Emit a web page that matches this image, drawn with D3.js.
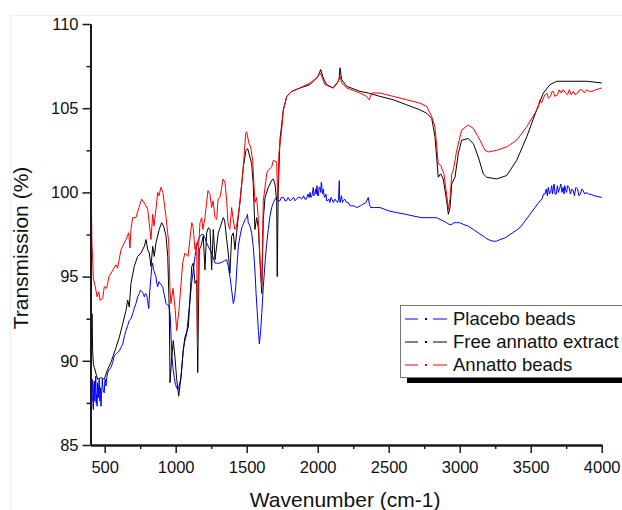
<!DOCTYPE html>
<html>
<head>
<meta charset="utf-8">
<script src="https://cdn.jsdelivr.net/npm/d3@7"></script>
<style>
  html, body { margin: 0; padding: 0; background: #fff; }
  svg { display: block; font-family: "Liberation Sans", Arial, sans-serif; }
</style>
</head>
<body>
<div id="wrapper"></div>
<script>
// FTIR spectra, [wavenumber, transmission %]
var seriesNames = ["Placebo beads", "Free annatto extract", "Annatto beads"];
var seriesColors = ["#0000ff", "#000000", "#ff0000"];

var placebo = [[401,90.6],[403,88.6],[406,89.5],[408,87.9],[410,87.6],[412,88.9],[415,88.6],[418,87.4],[420,87.1],[423,88.5],[427,88.8],[430,87.6],[434,88.3],[437,89.1],[440,87.5],[443,88.0],[446,87.3],[449,88.7],[452,88.2],[455,87.8],[458,88.6],[462,88.9],[466,87.6],[470,88.4],[474,87.3],[477,88.0],[480,88.3],[483,88.9],[486,88.6],[490,88.2],[497,88.1],[501,88.8],[505,88.9],[509,88.5],[514,89.0],[522,89.3],[532,89.5],[545,89.6],[556,89.9],[568,90.3],[580,90.4],[592,90.5],[603,90.6],[615,90.8],[627,91.0],[640,91.5],[650,91.8],[662,92.1],[673,92.4],[685,92.5],[697,92.8],[708,93.1],[720,93.4],[732,93.8],[744,94.0],[752,94.2],[763,94.1],[772,94.0],[779,93.8],[787,94.0],[796,93.9],[803,93.5],[810,93.1],[818,94.2],[826,95.0],[832,95.6],[838,95.8],[844,95.4],[850,95.3],[856,95.1],[861,95.0],[867,94.6],[873,94.4],[882,94.7],[890,94.6],[899,94.5],[908,94.4],[920,93.9],[932,93.4],[942,93.3],[951,93.3],[957,93.0],[962,92.6],[968,91.3],[974,90.2],[982,89.5],[990,89.0],[998,88.6],[1007,88.4],[1014,88.3],[1021,88.4],[1029,88.7],[1037,89.0],[1045,89.8],[1053,90.6],[1062,91.1],[1072,91.4],[1077,91.6],[1089,92.6],[1101,93.6],[1112,94.6],[1124,95.4],[1136,96.2],[1148,96.8],[1160,97.2],[1171,97.4],[1183,97.5],[1194,97.5],[1206,97.3],[1218,97.0],[1235,96.7],[1253,96.4],[1265,96.1],[1277,95.8],[1295,95.8],[1312,95.8],[1335,95.9],[1359,96.0],[1370,95.6],[1382,95.0],[1394,94.2],[1406,93.4],[1414,93.7],[1423,94.4],[1432,95.7],[1441,96.8],[1453,97.4],[1465,97.9],[1476,98.1],[1488,98.4],[1500,98.5],[1505,98.7],[1511,98.2],[1523,98.0],[1535,97.6],[1546,96.8],[1558,95.4],[1566,94.0],[1575,92.8],[1582,91.8],[1589,91.0],[1597,91.6],[1606,92.8],[1617,94.4],[1629,95.8],[1640,96.9],[1652,97.8],[1664,98.6],[1676,99.1],[1688,99.4],[1699,99.6],[1710,99.7],[1720,99.5],[1734,99.5],[1745,99.7],[1760,99.7],[1770,99.5],[1780,99.5],[1792,99.7],[1805,99.5],[1818,99.6],[1830,99.7],[1840,99.5],[1850,99.6],[1862,99.7],[1875,99.7],[1888,99.6],[1900,99.8],[1910,99.6],[1920,99.6],[1932,99.9],[1940,99.7],[1946,100.0],[1952,99.7],[1960,99.8],[1965,100.1],[1969,100.3],[1974,99.8],[1980,99.9],[1986,100.2],[1990,99.9],[1995,100.4],[2000,99.8],[2005,99.8],[2010,100.3],[2016,100.3],[2021,100.0],[2025,100.6],[2028,100.5],[2032,100.0],[2035,99.9],[2040,100.2],[2045,99.8],[2051,99.7],[2058,99.9],[2063,99.5],[2070,99.5],[2078,99.6],[2086,99.4],[2093,99.7],[2100,99.6],[2110,99.4],[2122,99.6],[2130,99.5],[2140,99.4],[2147,99.6],[2152,100.7],[2155,99.6],[2158,99.4],[2162,99.6],[2168,99.8],[2174,99.4],[2180,99.5],[2190,99.6],[2204,99.4],[2215,99.4],[2228,99.2],[2240,99.2],[2255,99.2],[2275,99.1],[2300,99.2],[2321,99.3],[2340,99.4],[2356,99.7],[2364,99.3],[2373,99.1],[2400,99.1],[2439,99.1],[2500,98.9],[2556,98.8],[2620,98.7],[2673,98.6],[2730,98.5],[2791,98.5],[2838,98.5],[2861,98.4],[2885,98.3],[2908,98.2],[2925,98.1],[2944,98.1],[2960,98.2],[2979,98.2],[3000,98.2],[3025,98.1],[3060,98.0],[3096,97.8],[3130,97.6],[3166,97.4],[3200,97.2],[3237,97.1],[3260,97.1],[3284,97.2],[3320,97.3],[3354,97.5],[3390,97.7],[3424,97.9],[3460,98.3],[3495,98.7],[3530,99.1],[3565,99.5],[3580,99.6],[3590,99.9],[3600,99.9],[3610,100.2],[3617,99.8],[3624,100.3],[3632,99.9],[3640,100.0],[3648,100.4],[3654,99.9],[3659,100.2],[3665,100.5],[3672,99.9],[3680,99.9],[3688,100.4],[3695,100.0],[3706,100.3],[3712,100.5],[3720,100.0],[3728,100.3],[3735,99.9],[3740,100.4],[3747,100.1],[3753,100.0],[3760,100.4],[3770,100.3],[3780,99.9],[3790,100.2],[3800,100.1],[3808,99.8],[3818,100.3],[3830,100.2],[3840,99.8],[3850,99.9],[3860,100.2],[3870,100.1],[3880,99.9],[3890,100.0],[3905,99.9],[3917,99.9],[3950,99.8],[4000,99.7]];

var freeExtract = [[400,93.0],[402,92.6],[404,92.9],[408,91.5],[411,92.8],[415,90.6],[420,89.8],[427,89.6],[440,89.2],[451,88.9],[474,89.0],[497,88.9],[521,89.5],[544,89.9],[580,90.8],[603,91.4],[627,92.2],[650,93.0],[662,93.6],[673,93.2],[685,94.6],[708,95.6],[732,96.2],[756,96.4],[779,96.8],[791,97.2],[803,96.6],[814,96.4],[826,95.6],[838,96.8],[849,96.2],[861,97.0],[884,97.8],[901,98.2],[915,98.0],[932,97.4],[944,96.2],[955,93.0],[960,88.7],[972,90.2],[983,91.2],[995,90.2],[1007,88.9],[1021,87.9],[1037,89.0],[1053,90.6],[1065,91.4],[1089,92.0],[1113,95.6],[1124,95.8],[1136,94.6],[1148,94.8],[1155,89.3],[1166,96.6],[1178,96.8],[1194,97.4],[1206,95.4],[1218,97.6],[1230,97.9],[1242,97.8],[1253,95.4],[1265,97.8],[1277,96.0],[1300,97.6],[1312,97.9],[1335,98.5],[1345,98.3],[1359,97.2],[1370,96.4],[1382,95.2],[1394,97.4],[1406,97.6],[1417,96.6],[1429,97.6],[1453,99.5],[1476,101.5],[1495,102.5],[1507,102.6],[1523,102.1],[1535,101.7],[1546,100.5],[1558,97.8],[1570,98.5],[1582,97.9],[1594,95.8],[1606,94.0],[1617,98.4],[1629,99.7],[1652,100.3],[1676,100.7],[1687,100.8],[1699,100.5],[1711,99.5],[1715,95.0],[1722,100.0],[1734,103.1],[1758,104.9],[1782,105.7],[1817,106.0],[1875,106.2],[1946,106.4],[2004,106.9],[2021,107.3],[2039,106.8],[2063,106.4],[2110,106.2],[2138,106.5],[2150,106.7],[2157,107.4],[2169,106.7],[2204,106.3],[2298,106.0],[2356,105.9],[2439,105.7],[2532,105.5],[2627,105.2],[2720,104.9],[2768,104.7],[2803,104.4],[2826,103.3],[2849,100.9],[2866,101.1],[2884,100.8],[2908,99.5],[2920,98.7],[2932,99.1],[2944,100.5],[2967,100.9],[2990,102.3],[3014,103.1],[3060,103.2],[3096,102.9],[3131,102.1],[3166,101.1],[3190,100.9],[3260,100.8],[3331,101.0],[3401,101.9],[3472,103.3],[3542,104.9],[3589,105.9],[3636,106.4],[3683,106.6],[3777,106.6],[3894,106.6],[4000,106.5]];

var annattoBeads = [[400,102.3],[402,97.4],[404,96.6],[407,99.1],[410,97.0],[415,96.0],[420,94.9],[434,94.4],[446,93.8],[458,94.1],[467,93.6],[486,93.7],[497,94.4],[514,94.3],[521,94.6],[530,95.0],[580,95.7],[591,95.5],[615,96.6],[650,97.2],[669,97.6],[678,96.7],[685,97.8],[697,98.5],[720,98.5],[741,99.1],[760,99.6],[784,99.3],[803,99.0],[826,97.2],[838,98.7],[847,98.0],[861,99.0],[873,100.0],[882,99.8],[896,100.3],[910,100.0],[931,98.6],[951,97.0],[960,94.2],[967,93.4],[981,94.3],[995,93.2],[1007,91.8],[1023,93.0],[1049,95.8],[1065,96.4],[1087,96.2],[1113,98.2],[1122,98.0],[1136,96.6],[1148,97.0],[1153,90.8],[1160,96.5],[1171,98.2],[1183,98.5],[1192,97.8],[1206,98.5],[1227,100.1],[1241,99.9],[1253,99.1],[1263,99.5],[1277,98.5],[1289,98.4],[1298,99.6],[1312,99.7],[1324,100.3],[1333,100.8],[1347,100.6],[1359,99.5],[1368,98.2],[1381,97.8],[1394,99.1],[1403,98.5],[1417,97.8],[1429,98.0],[1453,99.4],[1474,101.3],[1493,103.5],[1500,103.6],[1516,102.9],[1528,102.7],[1542,101.9],[1558,99.4],[1570,99.7],[1582,98.4],[1594,96.0],[1606,94.4],[1617,99.5],[1641,101.1],[1650,101.3],[1676,101.5],[1687,101.9],[1711,101.8],[1718,99.5],[1727,102.3],[1746,103.7],[1758,104.9],[1782,105.7],[1817,106.0],[1875,106.2],[1946,106.5],[1993,106.8],[2016,107.1],[2028,106.9],[2051,106.4],[2108,106.2],[2145,106.6],[2157,106.9],[2170,106.5],[2204,106.2],[2298,105.9],[2345,105.7],[2363,105.5],[2380,105.9],[2439,105.9],[2532,105.7],[2627,105.5],[2720,105.3],[2768,105.1],[2803,104.5],[2826,103.9],[2849,101.7],[2866,101.6],[2889,101.1],[2908,99.9],[2920,99.0],[2932,99.6],[2944,101.1],[2955,101.3],[2979,102.5],[3014,103.7],[3060,104.0],[3096,103.8],[3143,103.1],[3178,102.5],[3201,102.4],[3260,102.5],[3331,102.7],[3401,103.1],[3472,103.9],[3530,104.7],[3550,105.0],[3565,105.5],[3575,105.3],[3590,105.6],[3600,105.8],[3613,105.9],[3625,105.6],[3640,105.7],[3650,106.0],[3659,106.0],[3670,105.7],[3690,105.8],[3700,106.1],[3715,105.9],[3729,106.1],[3745,105.9],[3760,105.8],[3772,106.1],[3785,105.8],[3800,106.0],[3812,105.8],[3830,105.9],[3845,106.1],[3860,106.1],[3878,105.9],[3894,106.1],[3912,106.0],[3930,106.0],[3960,106.1],[4000,106.2]];

var allSeries = [placebo, freeExtract, annattoBeads];

var xMajor = [500, 1000, 1500, 2000, 2500, 3000, 3500, 4000];
var xMinor = [750, 1250, 1750, 2250, 2750, 3250, 3750];
var yMajor = [85, 90, 95, 100, 105, 110];
var yMinor = [87.5, 92.5, 97.5, 102.5, 107.5];

var width = 622, height = 510;
var plotLeft = 90.5, plotRight = 601.7, plotTop = 24, plotBottom = 445;

var x = d3.scaleLinear().domain([400, 4000]).range([plotLeft, plotRight]);
var y = d3.scaleLinear().domain([85, 110]).range([plotBottom, plotTop]);

const svg = d3.select("#wrapper").append("svg")
  .attr("width", width)
  .attr("height", height)
  .attr("viewBox", [0, 0, width, height]);

// faint figure frame
svg.append("rect")
  .attr("x", 10.5).attr("y", 15.5)
  .attr("width", 700).attr("height", 600)
  .attr("fill", "none")
  .attr("stroke", "#f0f0f0");

const line = d3.line()
  .x(d => x(d[0]))
  .y(d => y(d[1]));

svg.append("g")
  .selectAll("path")
  .data(allSeries)
  .join("path")
  .attr("fill", "none")
  .attr("stroke", (d, i) => seriesColors[i])
  .attr("stroke-width", 1)
  .attr("stroke-linejoin", "round")
  .attr("d", line);

// axes
const axisColor = "#1a1a1a";
function styleAxis(g) {
  g.select(".domain").attr("stroke", axisColor).attr("stroke-width", 2);
  g.selectAll(".tick line").attr("stroke", axisColor).attr("stroke-width", 1.5);
  g.selectAll(".tick text").attr("fill", "#111").style("font-size", "16.5px")
    .style("font-family", "'Liberation Sans', Arial, sans-serif");
}

svg.append("g")
  .attr("transform", `translate(0,${plotBottom})`)
  .call(d3.axisBottom(x).tickValues(xMinor).tickSize(4).tickFormat("").tickSizeOuter(0))
  .call(styleAxis);
svg.append("g")
  .attr("transform", `translate(0,${plotBottom})`)
  .call(d3.axisBottom(x).tickValues(xMajor).tickFormat(d3.format("d")).tickSize(8).tickPadding(8).tickSizeOuter(0))
  .call(styleAxis);

svg.append("g")
  .attr("transform", `translate(${plotLeft},0)`)
  .call(d3.axisLeft(y).tickValues(yMinor).tickSize(4).tickFormat("").tickSizeOuter(0))
  .call(styleAxis);
svg.append("g")
  .attr("transform", `translate(${plotLeft},0)`)
  .call(d3.axisLeft(y).tickValues(yMajor).tickFormat(d3.format("d")).tickSize(8).tickPadding(4).tickSizeOuter(0))
  .call(styleAxis);

// axis titles
svg.append("text")
  .attr("x", (plotLeft + plotRight) / 2 - 1)
  .attr("y", 507)
  .attr("text-anchor", "middle")
  .attr("fill", "#111")
  .style("font-size", "21px")
  .text("Wavenumber (cm-1)");

svg.append("text")
  .attr("transform", "translate(28,248) rotate(-90)")
  .attr("text-anchor", "middle")
  .attr("fill", "#111")
  .style("font-size", "21px")
  .text("Transmission (%)");

// legend
const legend = svg.append("g");
legend.append("rect")
  .attr("x", 407).attr("y", 377)
  .attr("width", 230).attr("height", 6)
  .attr("fill", "#000");
legend.append("rect")
  .attr("x", 400.5).attr("y", 305.5)
  .attr("width", 240).attr("height", 72)
  .attr("fill", "#fff")
  .attr("stroke", "#777")
  .attr("stroke-width", 1);

const rowY = [319, 342, 365];
const item = legend.selectAll("g.item")
  .data(seriesNames)
  .join("g")
  .attr("class", "item")
  .attr("transform", (d, i) => `translate(0,${rowY[i]})`);
item.append("line")
  .attr("x1", 405).attr("x2", 418).attr("y1", 0).attr("y2", 0)
  .attr("stroke", (d, i) => seriesColors[i]).attr("stroke-width", 1);
item.append("line")
  .attr("x1", 433).attr("x2", 447).attr("y1", 0).attr("y2", 0)
  .attr("stroke", (d, i) => seriesColors[i]).attr("stroke-width", 1);
item.append("rect")
  .attr("x", 425).attr("y", -1).attr("width", 2).attr("height", 2)
  .attr("fill", (d, i) => seriesColors[i]);
item.append("text")
  .attr("x", 453)
  .attr("y", 6)
  .attr("fill", "#111")
  .style("font-size", "18.5px")
  .text(d => d);
</script>
</body>
</html>
